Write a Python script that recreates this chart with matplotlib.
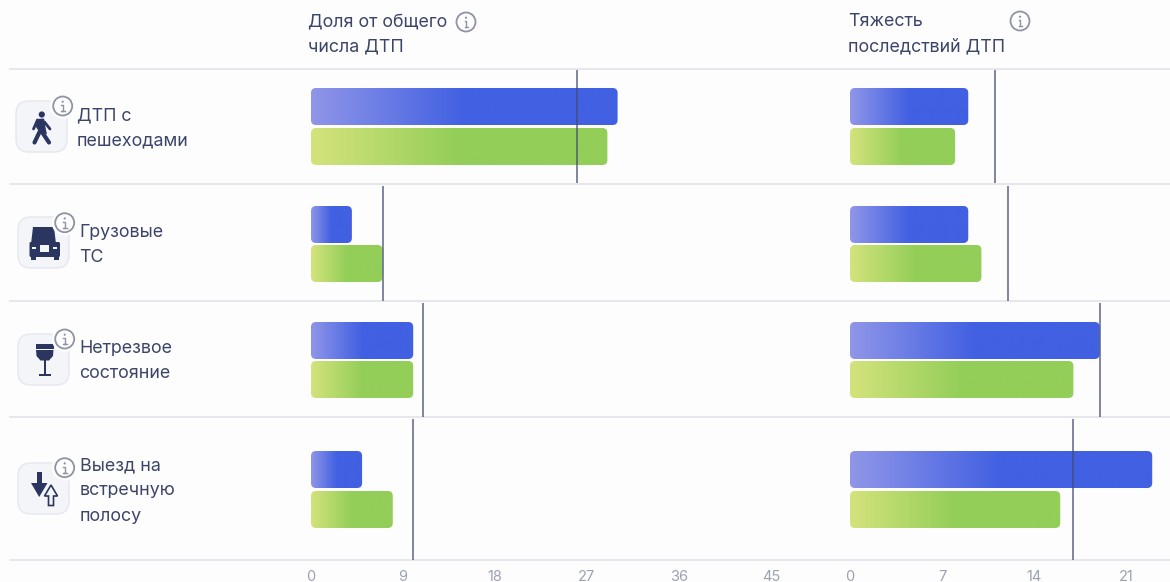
import numpy as np
import matplotlib
matplotlib.use("Agg")
import matplotlib.pyplot as plt
from matplotlib.colors import LinearSegmentedColormap
from matplotlib.patches import FancyBboxPatch, Circle, Polygon, Rectangle

plt.rcParams['font.family'] = ['Inter', 'DejaVu Sans']

# === Datos ===
row_labels = [["ДТП с", "пешеходами"],
              ["Грузовые", "ТС"],
              ["Нетрезвое", "состояние"],
              ["Выезд на", "встречную", "полосу"]]
header_left = ["Доля от общего", "числа ДТП"]
header_right = ["Тяжесть", "последствий ДТП"]

share_blue = [30, 4, 10, 5]
share_green = [29, 7, 10, 8]
share_mark = [26, 7, 11, 10]
share_ticks = [0, 9, 18, 27, 36, 45]

sev_blue = [9, 9, 19, 23]
sev_green = [8, 10, 17, 16]
sev_mark = [11, 12, 19, 17]
sev_ticks = [0, 7, 14, 21]

# === Layout (px) ===
W, H = 1170, 582
BG = "#fdfdfe"
TXT = "#3c4568"
NAVY = "#2b3660"
TICK = "#9ca2b0"
SEP = "#e4e5ec"
separators = [69, 183.5, 301, 417, 560]
blue_tops = [88, 206, 322, 451]
green_tops = [128, 245, 361, 491]
mark_spans = [(70, 183), (186, 301), (303, 417), (419, 560)]
BAR_H = 37

blue_cmap = LinearSegmentedColormap.from_list("b", [(0, "#9096e8"), (0.5, "#4160e2"), (1, "#4160e2")])
green_cmap = LinearSegmentedColormap.from_list("g", [(0, "#d4e37c"), (0.5, "#93ce58"), (1, "#93ce58")])

fig = plt.figure(figsize=(W / 100, H / 100), dpi=100, facecolor=BG)


def panel(x0, x1, pxu):
    ax = fig.add_axes([x0 / W, 1 - 560 / H, (x1 - x0) / W, (560 - 69) / H])
    ax.patch.set_alpha(0)
    for s in ax.spines.values():
        s.set_visible(False)
    ax.set_yticks([])
    ax.pxu = pxu
    return ax


def grad_bar(ax, val, top, cmap):
    # barra redondeada con gradiente
    r = 5 / ax.pxu
    box = FancyBboxPatch((0, top), val, BAR_H, boxstyle=f"round,pad=0,rounding_size={r}",
                         mutation_aspect=ax.pxu, fc="none", ec="none")
    ax.add_patch(box)
    im = ax.imshow(np.linspace(0, 1, 256).reshape(1, -1), extent=(0, val, top + BAR_H, top),
                   aspect="auto", cmap=cmap, vmin=0, vmax=1, zorder=2)
    im.set_clip_path(box)


def fill_panel(ax, blue, green, mark, ticks, xmax):
    for i in range(len(blue)):
        grad_bar(ax, blue[i], blue_tops[i], blue_cmap)
        grad_bar(ax, green[i], green_tops[i], green_cmap)
        ax.plot([mark[i], mark[i]], mark_spans[i], color="#414b73", lw=1.1, alpha=0.85,
                zorder=3, solid_capstyle="butt")
    ax.set_xlim(0, xmax)
    ax.set_ylim(560, 69)
    ax.set_xticks(ticks)
    ax.set_xticklabels([str(t) for t in ticks])
    ax.tick_params(axis="x", length=0, pad=7, labelsize=10.5, labelcolor=TICK)


fill_panel(panel(311, 780, 10.22), share_blue, share_green, share_mark, share_ticks, 469 / 10.22)
fill_panel(panel(850, 1170, 13.14), sev_blue, sev_green, sev_mark, sev_ticks, 320 / 13.14)

# === Capa de texto e iconos en píxeles ===
ov = fig.add_axes([0, 0, 1, 1], zorder=-1)
ov.set_xlim(0, W)
ov.set_ylim(H, 0)
ov.axis("off")

top = fig.add_axes([0, 0, 1, 1], zorder=5)
top.set_xlim(0, W)
top.set_ylim(H, 0)
top.axis("off")

for y in separators:
    ov.plot([9, W], [y, y], color=SEP, lw=1.3, solid_capstyle="butt")


def text_lines(lines, x, y0, step=25):
    for k, s in enumerate(lines):
        top.text(x, y0 + 1 + k * step, s, color=TXT, fontsize=12.85, va="center", ha="left")


def info(x, y):
    top.add_patch(Circle((x, y), 13, fc=BG, ec="none"))
    top.add_patch(Circle((x, y), 9.5, fc="none", ec="#8f94a2", lw=1.3))
    top.add_patch(Circle((x, y - 4.3), 1.1, fc="#8f94a2", ec="none"))
    top.plot([x - 1.5, x, x, x - 1.5, x + 1.8], [y - 1, y - 1, y + 4.8, y + 4.8, y + 4.8],
             color="#8f94a2", lw=1.0)


def icon_box(x, y):
    top.add_patch(FancyBboxPatch((x + 9, y + 9), 33, 33, boxstyle="round,pad=9,rounding_size=13",
                                 fc="#f4f5f9", ec="#e8e9ee", lw=1.1))


def poly(pts, **kw):
    kw.setdefault("fc", NAVY)
    kw.setdefault("ec", "none")
    top.add_patch(Polygon(pts, closed=True, **kw))


def seg(xs, ys, lw):
    top.plot(xs, ys, color=NAVY, lw=lw, solid_capstyle="round", solid_joinstyle="round")


def walker():
    top.add_patch(Circle((41.8, 114.5), 3.1, fc=NAVY, ec="none"))
    poly([(36.5, 119), (44, 118.5), (46, 130), (47, 134), (40, 133), (36, 127)])
    seg([37.5, 33.5], [120, 129], 2.0)
    seg([44.5, 50], [122, 129], 2.0)
    seg([40, 34.5], [131, 142.5], 3.0)
    seg([42, 49], [132, 142.5], 3.0)


def truck():
    oy = 190
    poly([(33, oy + 37), (54, oy + 37), (56, oy + 54), (31, oy + 54)])
    top.add_patch(FancyBboxPatch((29.5, oy + 52), 30.5, 15, boxstyle="round,pad=0,rounding_size=1.5",
                                 fc=NAVY, ec="none"))
    top.add_patch(Rectangle((39.5, oy + 55), 9.5, 6.5, fc="#f4f5f9", ec="none"))
    top.add_patch(Rectangle((31.5, oy + 57), 4.5, 2, fc="#f4f5f9", ec="none"))
    top.add_patch(Rectangle((52.5, oy + 57), 4.5, 2, fc="#f4f5f9", ec="none"))
    top.add_patch(Rectangle((30.5, oy + 66), 5.5, 3.5, fc=NAVY, ec="none"))
    top.add_patch(Rectangle((53.5, oy + 66), 5.5, 3.5, fc=NAVY, ec="none"))


def glass():
    poly([(36, 344), (53.5, 344), (53.5, 349), (36, 349)])
    poly([(36, 350), (53.5, 350), (53, 356), (49, 360.5), (40.5, 360.5), (36.5, 356)])
    top.add_patch(Rectangle((43.5, 360), 2.2, 14, fc=NAVY, ec="none"))
    top.add_patch(Rectangle((38.5, 373.5), 12.5, 2, fc=NAVY, ec="none"))


def arrows():
    oy = 420
    top.add_patch(Rectangle((36.8, oy + 52), 4.8, 12, fc=NAVY, ec="none"))
    poly([(31, oy + 63), (47.5, oy + 63), (39.2, oy + 77)])
    poly([(51, oy + 65), (44.5, oy + 76), (48.5, oy + 76), (48.5, oy + 85.5), (53.5, oy + 85.5),
          (53.5, oy + 76), (57.5, oy + 76)], fc="#f4f5f9", ec=NAVY, lw=1.2)


icon_box(16, 101)
icon_box(18, 217)
icon_box(18, 334)
icon_box(18, 463)
walker()
truck()
glass()
arrows()
info(62.7, 106)
info(64.7, 222.7)
info(64.7, 339)
info(64.7, 467.7)
info(466, 22)
info(1020, 21)

text_lines(row_labels[0], 77, 115)
text_lines(row_labels[1], 79.5, 231)
text_lines(row_labels[2], 79.5, 348)
text_lines(row_labels[3], 79.5, 465)
text_lines(header_left, 308, 21)
text_lines(header_right, 848.5, 21)

fig.savefig("out.png", dpi=100, facecolor=BG)
